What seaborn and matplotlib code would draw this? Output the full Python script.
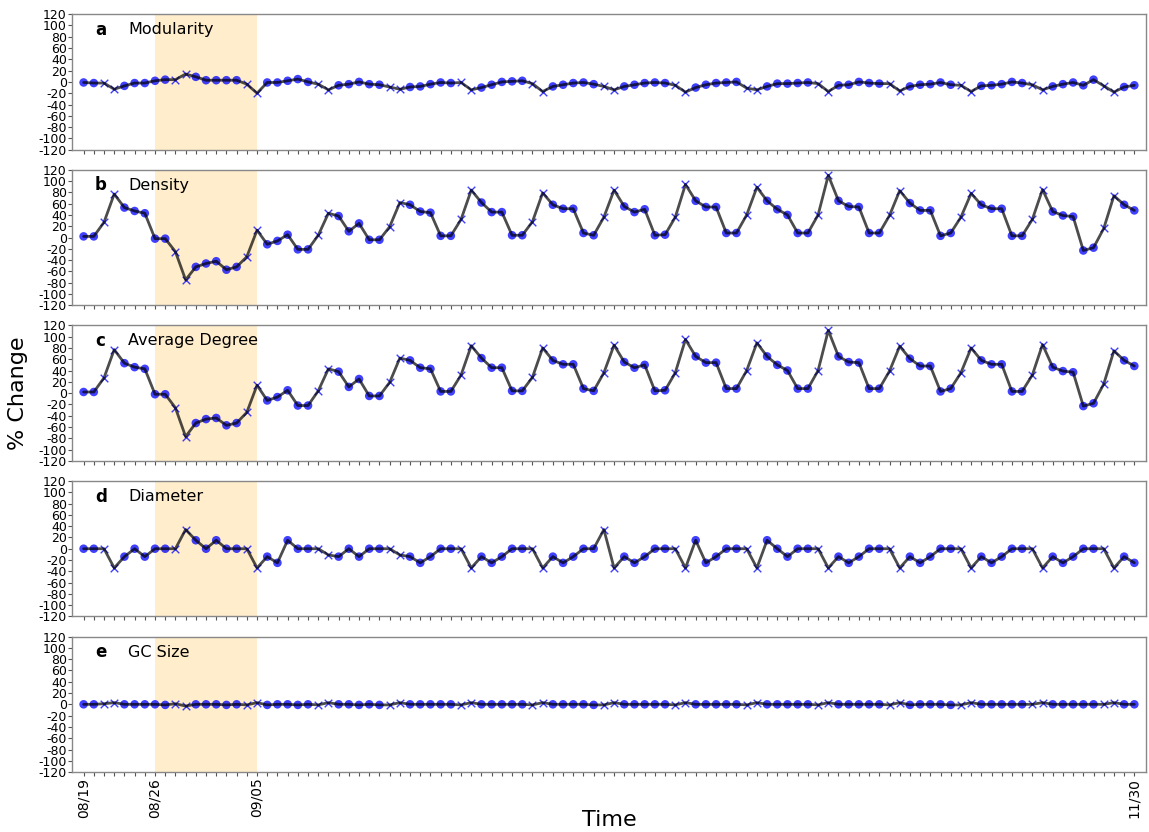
import numpy as np
import pandas as pd
import matplotlib
matplotlib.use("Agg")
import matplotlib.pyplot as plt
import seaborn as sns

# Daily observations, 2021-08-19 .. 2021-11-30
dates = pd.date_range("2021-08-19", "2021-11-30", freq="D")

modularity = [
    -1, -2, -2, -13, -7, -2, -2, 2, 4, 4, 14, 9, 3, 3, 3, 3, -4, -20, -1, -1,
    2, 5, 0, -4, -14, -6, -4, 0, -4, -5, -9, -13, -9, -8, -4, -1, -2, -1, -14, -10,
    -5, 0, 1, 2, -3, -17, -8, -5, -2, -1, -4, -8, -14, -8, -5, -2, -1, -2, -6, -18,
    -10, -5, -2, -1, 0, -11, -14, -8, -3, -3, -2, -1, -3, -17, -6, -5, 0, -2, -3, -3,
    -16, -8, -5, -4, -1, -5, -6, -17, -7, -6, -4, 0, -2, -5, -14, -8, -4, -1, -6, 4,
    -7, -18, -9, -6,
]

density = [
    2, 2, 27, 77, 53, 47, 43, -2, -2, -25, -75, -52, -46, -42, -57, -52, -34, 13, -12, -6,
    5, -21, -21, 4, 43, 38, 11, 25, -4, -4, 19, 62, 58, 46, 44, 3, 3, 32, 84, 62,
    45, 45, 4, 4, 28, 79, 58, 51, 51, 8, 4, 36, 84, 55, 45, 50, 4, 5, 36, 94,
    65, 54, 54, 8, 8, 40, 89, 65, 50, 40, 8, 8, 40, 110, 65, 55, 54, 8, 8, 39,
    83, 61, 48, 48, 3, 8, 36, 78, 58, 51, 51, 3, 3, 32, 85, 46, 39, 37, -23, -18,
    16, 74, 58, 48,
]

avg_degree = [
    2, 2, 27, 77, 53, 46, 43, -2, -2, -26, -77, -53, -46, -44, -57, -53, -34, 14, -13, -7,
    5, -22, -22, 4, 43, 38, 11, 25, -5, -5, 19, 62, 58, 45, 43, 3, 3, 32, 84, 62,
    45, 45, 4, 4, 28, 80, 58, 51, 51, 8, 4, 36, 85, 55, 45, 50, 4, 5, 36, 95,
    65, 54, 54, 8, 8, 40, 89, 65, 50, 40, 8, 8, 40, 111, 65, 55, 54, 8, 8, 39,
    83, 61, 48, 48, 3, 8, 36, 80, 58, 51, 51, 3, 3, 32, 86, 46, 39, 37, -23, -18,
    16, 75, 58, 48,
]

diameter = [
    0, 0, 0, -34, -14, 0, -14, 0, 0, 0, 34, 15, 0, 15, 0, 0, 0, -34, -14, -25,
    15, 0, 0, 0, -11, -14, 0, -14, 0, 0, 0, -11, -14, -25, -14, 0, 0, 0, -34, -14,
    -25, -14, 0, 0, 0, -34, -14, -25, -14, 0, 0, 34, -34, -14, -25, -14, 0, 0, 0, -34,
    15, -25, -14, 0, 0, 0, -34, 15, 0, -14, 0, 0, 0, -34, -14, -25, -14, 0, 0, 0,
    -34, -14, -25, -14, 0, 0, 0, -34, -14, -25, -14, 0, 0, 0, -34, -14, -25, -14, 0, 0,
    0, -34, -14, -25,
]

gc_size = [
    0, 0, 1, 3, 0, 0, 0, 0, -1, 1, -3, 0, 0, 0, -1, 0, -1, 3, -1, 0,
    0, -1, 0, -1, 3, 0, 0, -1, 0, -1, -1, 3, 0, 0, 0, 0, 0, -1, 3, 0,
    0, 0, 0, 0, -1, 3, 0, 0, 0, 0, -1, -1, 3, 0, 0, 0, 0, 0, -1, 3,
    0, 0, 0, 0, 0, -1, 3, 0, 0, 0, 0, 0, -1, 3, 0, 0, 0, 0, 0, -1,
    3, -1, 0, 0, 0, -1, -1, 3, 0, 0, 0, 0, 0, 0, 3, 0, 0, 0, 0, 0,
    0, 3, 0, 0,
]

panel_letters = ["a", "b", "c", "d", "e"]
panel_titles = ["Modularity", "Density", "Average Degree", "Diameter", "GC Size"]
series = [modularity, density, avg_degree, diameter, gc_size]

labelled_dates = ["08/19", "08/26", "09/05", "11/30"]
shade_start, shade_end = "08/26", "09/05"
y_ticks = list(range(-120, 121, 20))

sns.set_theme(style="white")
plt.rcParams["font.family"] = ["DejaVu Sans"]
plt.rcParams["text.color"] = "black"
plt.rcParams["xtick.color"] = "black"
plt.rcParams["ytick.color"] = "black"

fig, axes = plt.subplots(5, 1, figsize=(11.49, 8.32), dpi=100, sharex=True)
fig.subplots_adjust(left=0.063, right=0.997, top=0.983, bottom=0.072, hspace=0.148)

day_idx = np.arange(len(dates))
labels = list(dates.strftime("%m/%d"))
is_weekend = dates.dayofweek >= 5

for ax, letter, title, vals in zip(axes, panel_letters, panel_titles, series):
    df = pd.DataFrame({"day": day_idx, "value": vals, "weekend": is_weekend})

    s0 = labels.index(shade_start)
    s1 = labels.index(shade_end)
    ax.axvspan(s0, s1, color="orange", alpha=0.2, lw=0, zorder=0)

    sns.scatterplot(data=df[~df["weekend"]], x="day", y="value", ax=ax,
                    marker="o", color="#0000ff", alpha=0.75, s=38,
                    edgecolor="none", zorder=2, legend=False)
    sns.scatterplot(data=df[df["weekend"]], x="day", y="value", ax=ax,
                    marker="x", color="#0000ff", alpha=0.75, s=30,
                    linewidth=1.0, zorder=2, legend=False)
    sns.lineplot(data=df, x="day", y="value", ax=ax, color="black",
                 alpha=0.7, lw=2, zorder=3, legend=False)

    ax.set_ylim(-120, 120)
    ax.set_yticks(y_ticks)
    ax.set_yticklabels([str(v) for v in y_ticks], fontsize=9)
    ax.set_xlim(-1.1, len(dates) - 1 + 1.1)
    ax.set_xticks(day_idx)
    ax.set_xlabel("")
    ax.set_ylabel("")
    ax.tick_params(axis="both", which="both", length=3, width=0.8,
                   color="#555555", pad=1, bottom=True, left=True)
    for sp in ax.spines.values():
        sp.set_color("#888888")
        sp.set_linewidth(1.0)

    ax.text(0.021, 0.885, letter, transform=ax.transAxes, fontsize=12,
            fontweight="bold", ha="left", va="center")
    ax.text(0.052, 0.885, title, transform=ax.transAxes, fontsize=11.5,
            ha="left", va="center")

tick_text = [lab if lab in labelled_dates else "" for lab in labels]
axes[-1].set_xticklabels(tick_text, rotation=90, fontsize=10)

fig.text(0.016, 0.527, "% Change", rotation=90, fontsize=16, ha="center", va="center")
fig.text(0.53, 0.002, "Time", fontsize=16, ha="center", va="bottom")

fig.savefig("out.png", dpi=100)
